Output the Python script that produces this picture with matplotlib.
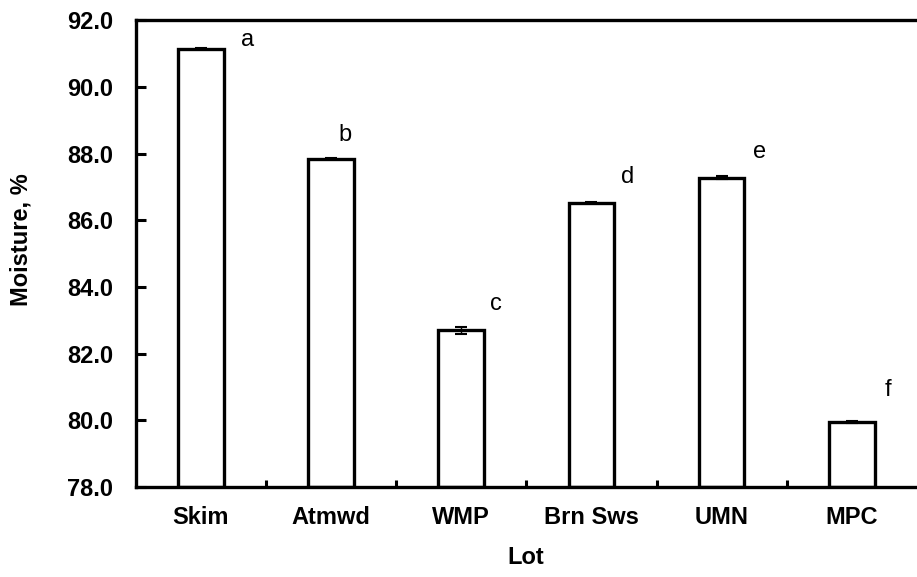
import matplotlib.pyplot as plt
from matplotlib.ticker import FixedLocator, NullFormatter
import numpy as np

plt.rcParams['font.family'] = ['Liberation Sans', 'DejaVu Sans']

LOTS = ['Skim', 'Atmwd', 'WMP', 'Brn Sws', 'UMN', 'MPC']
MOISTURE = [91.15, 87.85, 82.7, 86.53, 87.28, 79.95]
ERRORS = [0.02, 0.02, 0.1, 0.01, 0.04, 0.04]
LETTERS = ['a', 'b', 'c', 'd', 'e', 'f']
LETTER_X = [0.36, 1.105, 2.27, 3.28, 4.29, 5.28]
LETTER_Y = [91.4, 88.55, 83.5, 87.3, 88.05, 80.9]

x = np.arange(len(LOTS))

fig = plt.figure(figsize=(9.17, 5.77), dpi=100)
ax = fig.add_axes([0.148, 0.156, 0.852, 0.809])

ax.bar(x, [m - 78 for m in MOISTURE], 0.35, bottom=78, color='white',
       edgecolor='black', linewidth=2.4, zorder=2)
ax.errorbar(x, MOISTURE, yerr=ERRORS, fmt='none', ecolor='black',
            elinewidth=1.0, capsize=4, capthick=1.5, zorder=3)

for lx, ly, t in zip(LETTER_X, LETTER_Y, LETTERS):
    ax.text(lx, ly, t, fontsize=17, ha='center', va='center')

ax.set_xlim(-0.5, 5.5)
ax.set_ylim(78, 92)
ax.set_yticks(np.arange(78, 92.1, 2))
ax.set_yticklabels(['%.1f' % v for v in np.arange(78, 92.1, 2)],
                   fontsize=17, fontweight='bold')
ax.set_xticks(x)
ax.set_xticklabels(LOTS, fontsize=17, fontweight='bold')
ax.xaxis.set_minor_locator(FixedLocator(x[:-1] + 0.5))
ax.xaxis.set_minor_formatter(NullFormatter())
ax.tick_params(axis='x', which='major', length=0, pad=14)
ax.tick_params(axis='x', which='minor', direction='in', length=5, width=2.2)
ax.tick_params(axis='y', direction='in', length=7, width=2.2, pad=16)

for side in ['left', 'bottom', 'top']:
    ax.spines[side].set_linewidth(2.4)
ax.spines['right'].set_visible(False)

ax.set_xlabel('Lot', fontsize=17, fontweight='bold')
ax.set_ylabel('Moisture, %', fontsize=17, fontweight='bold')
ax.xaxis.set_label_coords(526 / 917, 1 - 546 / 577, transform=fig.transFigure)
ax.yaxis.set_label_coords(33 / 917, 1 - 240 / 577, transform=fig.transFigure)

fig.savefig('out.png', dpi=100)
